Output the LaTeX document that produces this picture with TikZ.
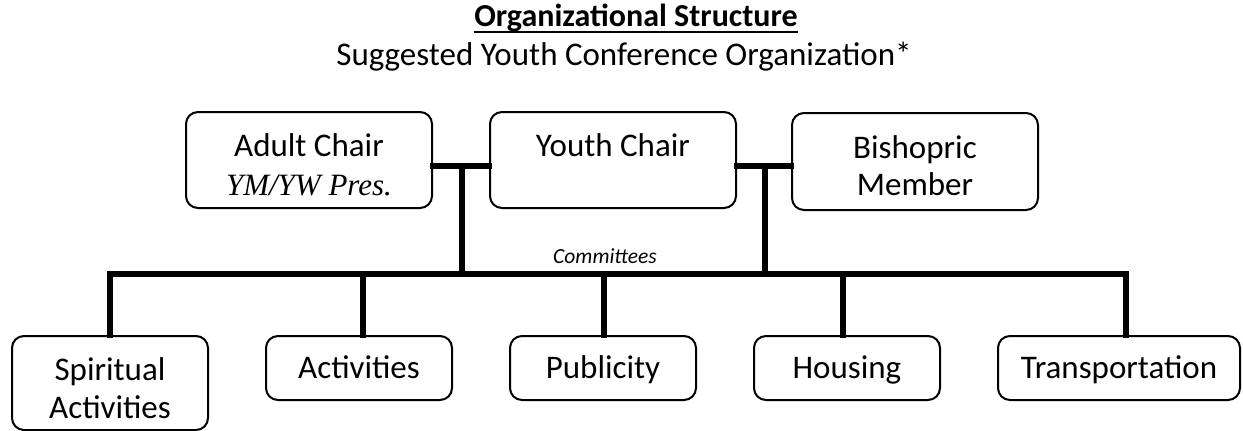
\documentclass[tikz,border=0pt]{standalone}
\usepackage{fontspec}
\setmainfont{Carlito}
\newfontfamily\tnrfont{Liberation Serif}
\begin{document}
\begin{tikzpicture}[x=1pt,y=-1pt,
  box/.style={draw=black,line width=2pt,rounded corners=12pt,inner sep=0pt,fill=white},
  conn/.style={line width=6.5pt,line join=miter,line cap=rect},
  lbl/.style={font=\fontsize{33}{38}\selectfont,inner sep=0pt,anchor=base}]
\useasboundingbox (0,0) rectangle (1243,431);
% title
\node[inner sep=0pt,anchor=base,font=\fontsize{32}{36}\selectfont\bfseries] (title) at (636,27) {Organizational Structure};
\draw[line width=2.5pt] ([yshift=-5pt]title.base west) -- ([yshift=-5pt]title.base east);
\node[inner sep=0pt,anchor=base,font=\fontsize{33}{38}\selectfont] (sub) at (624,65) {Suggested Youth Conference Organization*};
\coordinate (j1) at (462,166);
\coordinate (j2) at (765,166);
\coordinate (b1) at (462,274);
\coordinate (b2) at (765,274);
% top boxes
\node[box,minimum width=246pt,minimum height=96pt] (adult) at (309,160) {};
\node[box,minimum width=246pt,minimum height=96pt] (youth) at (613,160) {};
\node[box,minimum width=246pt,minimum height=97pt] (bish) at (915,161.5) {};
% bottom boxes
\node[box,minimum width=196pt,minimum height=94pt] (spir) at (110,383) {};
\node[box,minimum width=186pt,minimum height=64pt] (act) at (359,368) {};
\node[box,minimum width=186pt,minimum height=64pt] (pub) at (603,368) {};
\node[box,minimum width=186pt,minimum height=64pt] (hou) at (847,368) {};
\node[box,minimum width=242pt,minimum height=64pt] (tra) at (1119,368) {};
% connectors
\draw[conn] (adult.east |- j1) -- (youth.west |- j1);
\draw[conn] (youth.east |- j2) -- (bish.west |- j2);
\draw[conn] (j1) -- (b1);
\draw[conn] (j2) -- (b2);
\draw[conn] (spir.north) -- (spir.north |- b1) -- ([xshift=7pt]tra.north |- b1) -- ([xshift=7pt]tra.north);
\draw[conn] ([xshift=4pt]act.north |- b1) -- ([xshift=4pt]act.north);
\draw[conn] ([xshift=1pt]pub.north |- b1) -- ([xshift=1pt]pub.north);
\draw[conn] ([xshift=-4pt]hou.north |- b1) -- ([xshift=-4pt]hou.north);
% texts
\node[lbl] (tadult) at (309,156) {Adult Chair};
\node[inner sep=0pt,anchor=base,font=\fontsize{31}{36}\selectfont\tnrfont\itshape] (tadult2) at (309,195) {YM/YW Pres.};
\node[lbl] (tyouth) at (613,156) {Youth Chair};
\node[lbl] (tbish) at (915,158) {Bishopric};
\node[lbl] (tbish2) at (915,195) {Member};
\node[inner sep=0pt,anchor=base,font=\fontsize{21.5}{24}\selectfont\itshape] (comm) at (605,263) {Committees};
\node[lbl] (tspir) at (110,380) {Spiritual};
\node[lbl] (tspir2) at (110,418) {Activities};
\node[lbl] (tact) at (359,378) {Activities};
\node[lbl] (tpub) at (603,378) {Publicity};
\node[lbl] (thou) at (847,378) {Housing};
\node[lbl] (ttra) at (1119,378) {Transportation};
\end{tikzpicture}
\end{document}
